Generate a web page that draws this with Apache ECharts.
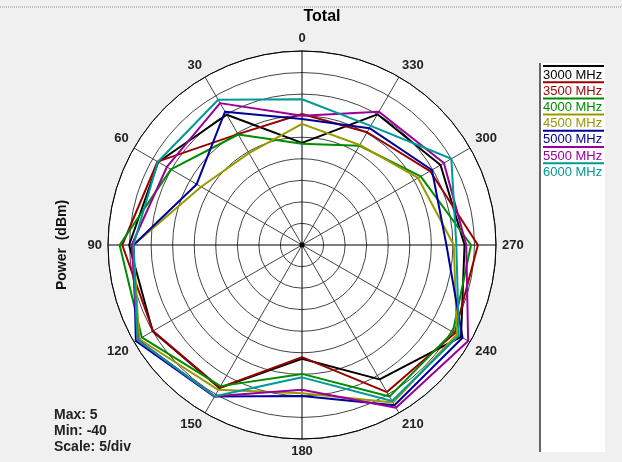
<!DOCTYPE html>
<html><head><meta charset="utf-8">
<script src="https://cdn.jsdelivr.net/npm/echarts@6/dist/echarts.min.js"></script>
<style>html,body{margin:0;padding:0;background:#f0f0f0;}#c{width:622px;height:462px;}</style>
</head><body><div id="c"></div>
<script>
// ---- data ----
const angles = [0, 30, 60, 90, 120, 150, 180, 210, 240, 270, 300, 330];
const angleLabels = ['0', '30', '60', '90', '120', '150', '180', '210', '240', '270', '300', '330'];
const seriesNames = ['3000 MHz', '3500 MHz', '4000 MHz', '4500 MHz', '5000 MHz', '5500 MHz', '6000 MHz'];
const colors = ['#000000', '#990000', '#008c00', '#999900', '#000099', '#990099', '#009999'];
const mhz3000 = [-16.3, -5.1, -1.5, 0.1, 0.0, -1.7, -13.6, -4.0, 2.6, -2.3, -2.9, -5.0];
const mhz3500 = [-9.6, -10.3, -1.3, 1.7, -0.1, -1.8, -14.0, -0.6, 0.9, 0.8, -5.7, -9.8];
const mhz4000 = [-16.5, -10.4, -4.9, 2.3, 2.9, -2.2, -10.1, 0.6, 0.4, -0.8, -8.2, -13.4];
const mhz4500 = [-11.9, -15.4, -13.0, -0.9, 3.6, -1.2, -5.6, 2.2, 1.5, -4.8, -8.9, -13.2];
const mhz5000 = [-10.8, -4.3, -11.8, -0.9, 4.5, 0.6, -5.0, 2.9, 3.0, -6.5, -5.2, -8.7];
const mhz5500 = [-10.0, -2.0, -3.8, -0.5, 4.0, 0.5, -6.4, 3.6, 4.5, -1.9, -2.0, -4.3];
const mhz6000 = [-6.2, -1.1, -1.4, -0.9, 4.1, 0.5, -9.3, 1.8, 2.0, -4.2, 0.0, -8.1];
const seriesValues = [mhz3000, mhz3500, mhz4000, mhz4500, mhz5000, mhz5500, mhz6000];
const radiusMin = -40, radiusMax = 5, radiusStep = 5;
const infoLines = ['Max: 5', 'Min: -40', 'Scale: 5/div'];

// ---- chart ----
const FONT = '"Liberation Sans", Arial, sans-serif';
const CX = 302, CY = 245, R = 194;
const chart = echarts.init(document.getElementById('c'), null, {renderer: 'canvas'});

const series = seriesValues.map((vals, k) => ({
  name: seriesNames[k],
  type: 'line',
  coordinateSystem: 'polar',
  showSymbol: false,
  symbol: 'none',
  animation: false,
  z: 5,
  lineStyle: {color: colors[k], width: 2},
  itemStyle: {color: colors[k]},
  data: angles.map((a, i) => [vals[i], a]).concat([[vals[0], 360]])
}));

const graphic = [
  {type: 'circle', shape: {cx: CX, cy: CY, r: R}, style: {fill: '#ffffff'}, z: -100},
  {type: 'line', shape: {x1: 0, y1: 7, x2: 622, y2: 7}, style: {stroke: '#8a8a8a', lineWidth: 1, lineDash: [1, 1]}},
  {type: 'text', x: 322, y: 17, style: {text: 'Total', font: 'bold 16px ' + FONT, fill: '#000', textAlign: 'center', textVerticalAlign: 'middle'}},
  {type: 'text', x: 62, y: 245, rotation: Math.PI / 2, style: {text: 'Power  (dBm)', font: 'bold 14px ' + FONT, fill: '#111', textAlign: 'center', textVerticalAlign: 'middle'}},
  {type: 'rect', shape: {x: 541, y: 63, width: 64, height: 389}, style: {fill: '#ffffff'}},
  {type: 'line', shape: {x1: 540, y1: 63, x2: 540, y2: 452}, style: {stroke: '#666', lineWidth: 2}},
  {type: 'circle', shape: {cx: CX, cy: CY, r: 2.5}, style: {fill: '#000'}, z: 10}
];
infoLines.forEach((t, i) => {
  graphic.push({type: 'text', x: 54, y: 415 + i * 16, style: {text: t, font: 'bold 14px ' + FONT, fill: '#222', textVerticalAlign: 'middle'}});
});
seriesNames.forEach((n, i) => {
  const y = 66 + i * 16.2;
  graphic.push({type: 'line', shape: {x1: 543, y1: y, x2: 604, y2: y}, style: {stroke: colors[i], lineWidth: 2}});
  graphic.push({type: 'text', x: 543, y: y + 9, style: {text: n, font: '13px ' + FONT, fill: colors[i], textVerticalAlign: 'middle'}});
});

chart.setOption({
  backgroundColor: '#f0f0f0',
  animation: false,
  polar: {center: [CX, CY], radius: R},
  angleAxis: {
    type: 'value', min: 0, max: 360, interval: 30, startAngle: 90, clockwise: false,
    axisLine: {lineStyle: {color: '#000', width: 1}},
    axisTick: {show: false},
    axisLabel: {
      formatter: v => { const i = angles.indexOf(v); return i >= 0 ? angleLabels[i] : ''; },
      fontFamily: FONT, fontWeight: 'bold', fontSize: 13, color: '#222',
      margin: 6, align: 'center', verticalAlign: 'middle'
    },
    splitLine: {show: true, lineStyle: {color: ['#000', '#444', '#444'], width: 1}}
  },
  radiusAxis: {
    type: 'value', min: radiusMin, max: radiusMax, interval: radiusStep,
    axisLine: {show: false}, axisTick: {show: false}, axisLabel: {show: false},
    splitLine: {show: true, lineStyle: {color: '#444', width: 1}}
  },
  series: series,
  graphic: graphic
});
</script></body></html>
